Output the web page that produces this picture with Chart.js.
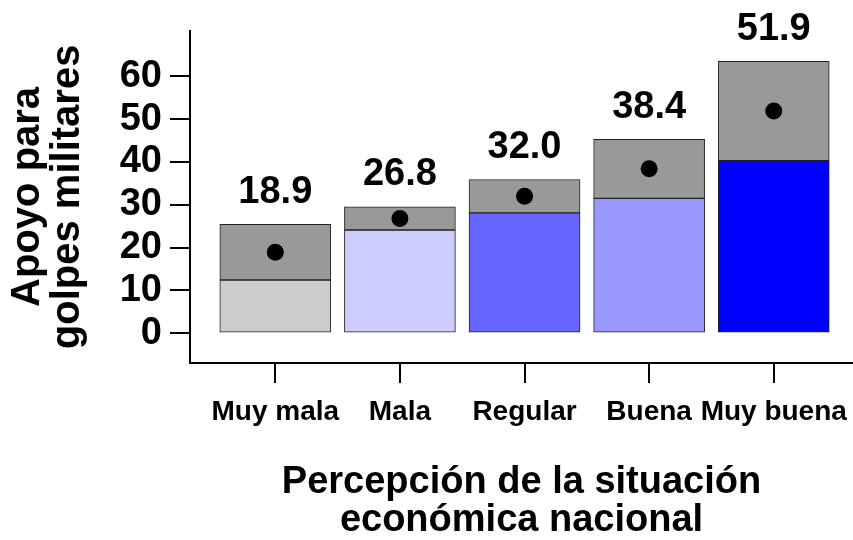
<!DOCTYPE html>
<html>
<head>
<meta charset="utf-8">
<script src="https://cdn.jsdelivr.net/npm/chart.js@4"></script>
<style>body{margin:0;background:#fff}canvas{display:block}</style>
</head>
<body>
<canvas id="c" width="853" height="540"></canvas>
<script>
const cats=['Muy mala','Mala','Regular','Buena','Muy buena'];
const means=[18.9,26.8,32.0,38.4,51.9];
const lower=[12.4,24.1,28.1,31.5,40.3];
const upper=[25.4,29.5,35.9,45.3,63.5];
const yTicks=[0,10,20,30,40,50,60];
const barColors=['#cccccc','#ccccff','#6666ff','#9999ff','#0000ff'];

const F='"Liberation Sans", Arial, sans-serif';
const xs=cats.map((c,i)=>i+1);

// mean labels above each bar
const valueLabels={id:'valueLabels',afterDatasetsDraw(chart){
const ctx=chart.ctx, meta=chart.getDatasetMeta(1);
ctx.save();
ctx.font='bold 38px '+F; ctx.fillStyle='#000'; ctx.textAlign='center'; ctx.textBaseline='middle';
meta.data.forEach((el,i)=>ctx.fillText(means[i].toFixed(1),el.x,el.y-32));
ctx.restore();
}};

new Chart(document.getElementById('c'),{
type:'bar',
data:{datasets:[
{type:'line',data:xs.map((x,i)=>({x,y:means[i]})),showLine:false,pointRadius:8.5,pointBackgroundColor:'#000',pointBorderWidth:0},
{data:xs.map((x,i)=>({x,y:[lower[i],upper[i]]})),backgroundColor:'#999999',borderColor:'#222',borderWidth:1,barThickness:111,grouped:false,borderSkipped:false},
{data:xs.map((x,i)=>({x,y:lower[i]})),backgroundColor:barColors,borderColor:'#222',borderWidth:1,barThickness:111,grouped:false,borderSkipped:false}
]},
options:{
responsive:false,animation:false,
layout:{autoPadding:false,padding:{top:30,left:0,right:0,bottom:0}},
plugins:{legend:{display:false},tooltip:{enabled:false}},
scales:{
x:{type:'linear',min:0.3154,max:5.636,offset:false,
afterBuildTicks:s=>{s.ticks=xs.map(v=>({value:v}))},
afterFit:s=>{s.height=177;s.paddingLeft=0;s.paddingRight=0},
ticks:{callback:v=>cats[v-1],color:'#000',font:{family:F,size:28,weight:'bold'},padding:12,maxRotation:0,autoSkip:false},
grid:{offset:false,drawOnChartArea:false,drawTicks:true,tickLength:20,color:'#000',lineWidth:2},
border:{color:'#000',width:2},
title:{display:true,text:['Percepción de la situación','económica nacional'],color:'#000',font:{family:F,size:38,weight:'bold',lineHeight:1},padding:{top:0,bottom:0}}
},
y:{min:-7.0,max:70.66,
afterBuildTicks:s=>{s.ticks=yTicks.map(v=>({value:v}))},
afterFit:s=>{s.width=190},
ticks:{color:'#000',font:{family:F,size:38,weight:'bold'},padding:8},
grid:{drawOnChartArea:false,drawTicks:true,tickLength:20,color:'#000',lineWidth:2},
border:{color:'#000',width:2},
title:{display:true,text:['Apoyo para','golpes militares'],color:'#000',font:{family:F,size:40,weight:'bold',lineHeight:1},padding:{top:8,bottom:0}}
}
}
},
plugins:[valueLabels]
});
</script>
</body>
</html>
